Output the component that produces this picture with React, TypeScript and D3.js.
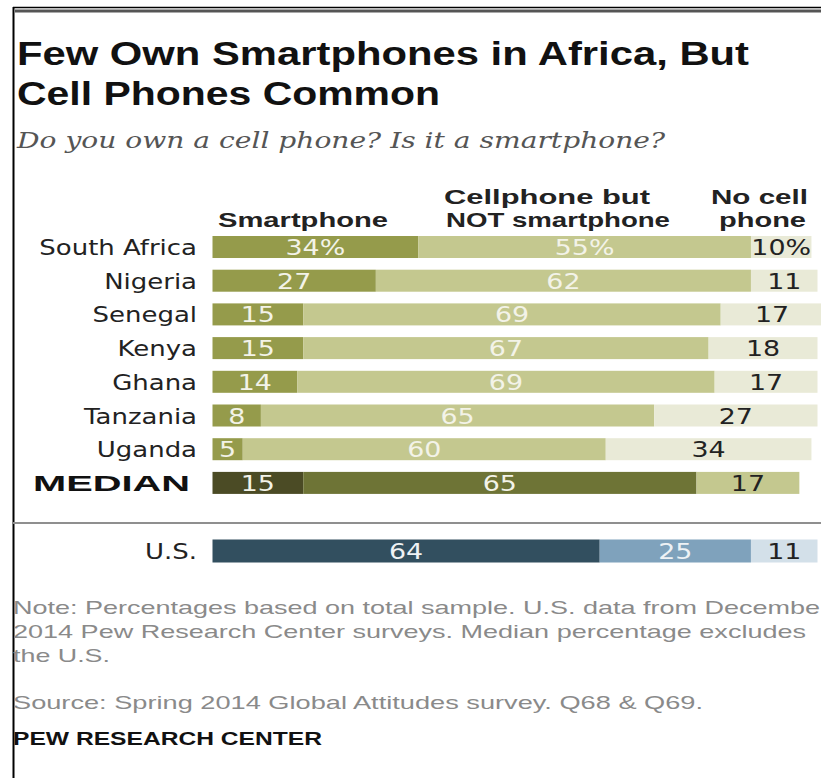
import React from "react";
import * as d3 from "d3";

const countries = ["South Africa", "Nigeria", "Senegal", "Kenya", "Ghana", "Tanzania", "Uganda", "MEDIAN"];
const smartphone = [34, 27, 15, 15, 14, 8, 5, 15];
const cellNotSmart = [55, 62, 69, 67, 69, 65, 60, 65];
const noCell = [10, 11, 17, 18, 17, 27, 34, 17];
const usLabel = "U.S.";
const usValues = [64, 25, 11];

const W = 821;
const H = 778;

const greens = ["#959b4b", "#c4c88f", "#e9ead7"];
const medianColors = ["#4b4b25", "#6e7436", "#c4c88f"];
const usColors = ["#324f5f", "#7fa2bc", "#d3e0e9"];
const textOnColors = ["#f3f3e8", "#f3f3e8", "#222"];

const SANS = "'DejaVu Sans', sans-serif";
const ARIAL = "'Liberation Sans', Arial, sans-serif";

function T(props: any) {
  const { x, y, sx = 1.3, anchor = "start", children, ...rest } = props;
  return (
    <g transform={`translate(${x},${y}) scale(${sx},1)`}>
      <text x={0} y={0} textAnchor={anchor} {...rest}>
        {children}
      </text>
    </g>
  );
}

export default function App() {
  const x = d3.scaleLinear().domain([0, 100]).range([212.5, 817.5]);
  const step = 33.7;
  const pad = 0.347;
  const y = d3
    .scaleBand()
    .domain(countries)
    .range([236 - (step * pad) / 2, 236 - (step * pad) / 2 + step * countries.length])
    .paddingInner(pad)
    .paddingOuter(pad / 2);
  const bw = y.bandwidth();

  const rows = countries.map((c, i) => {
    const vals = [smartphone[i], cellNotSmart[i], noCell[i]];
    const starts = [0, vals[0], vals[0] + vals[1]];
    return { c, i, vals, starts };
  });

  const usY = 539.5;
  const usStarts = [0, usValues[0], usValues[0] + usValues[1]];

  return (
    <div style={{ position: "absolute", left: 0, top: 0 }}>
      <svg width={W} height={H} style={{ display: "block", background: "#fff" }}>
        {/* frame */}
        <line x1={13.5} y1={7} x2={13.5} y2={H} stroke="#000" strokeWidth={2} />
        <line x1={13} y1={7.5} x2={W} y2={7.5} stroke="#000" strokeWidth={1.5} />
        <line x1={15} y1={11} x2={W} y2={11} stroke="#555" strokeWidth={3} />

        {/* title */}
        <text x={17} y={65} fontFamily={ARIAL} fontWeight="bold" fontSize={34} fill="#111" textLength={732} lengthAdjust="spacingAndGlyphs">
          Few Own Smartphones in Africa, But
        </text>
        <text x={17} y={105} fontFamily={ARIAL} fontWeight="bold" fontSize={34} fill="#111" textLength={423} lengthAdjust="spacingAndGlyphs">
          Cell Phones Common
        </text>
        <text x={17} y={148} fontFamily="'DejaVu Serif', serif" fontStyle="italic" fontSize={22} fill="#555" textLength={648} lengthAdjust="spacingAndGlyphs">
          Do you own a cell phone? Is it a smartphone?
        </text>

        {/* column headers */}
        <text x={218} y={227} fontFamily={ARIAL} fontWeight="bold" fontSize={20} fill="#222" textLength={170} lengthAdjust="spacingAndGlyphs">Smartphone</text>
        <text x={444} y={204} fontFamily={ARIAL} fontWeight="bold" fontSize={20} fill="#222" textLength={206} lengthAdjust="spacingAndGlyphs">Cellphone but</text>
        <text x={446} y={227} fontFamily={ARIAL} fontWeight="bold" fontSize={20} fill="#222" textLength={224} lengthAdjust="spacingAndGlyphs">NOT smartphone</text>
        <text x={711} y={204} fontFamily={ARIAL} fontWeight="bold" fontSize={20} fill="#222" textLength={97} lengthAdjust="spacingAndGlyphs">No cell</text>
        <text x={719} y={227} fontFamily={ARIAL} fontWeight="bold" fontSize={20} fill="#222" textLength={87} lengthAdjust="spacingAndGlyphs">phone</text>

        {/* rows */}
        {rows.map((r) => {
          const top = y(r.c)!;
          const isMedian = r.c === "MEDIAN";
          const cols = isMedian ? medianColors : greens;
          return (
            <g key={r.c}>
              {isMedian ? (
                <text x={33} y={top + 19.5} fontFamily={ARIAL} fontWeight="900" fontSize={22} fill="#111" textLength={157} lengthAdjust="spacingAndGlyphs">
                  {r.c}
                </text>
              ) : (
                <T x={197} y={top + 19} anchor="end" fontFamily={SANS} fontSize={22} fill="#222" sx={1.18}>
                  {r.c}
                </T>
              )}
              {r.vals.map((v, k) => (
                <rect key={k} x={x(r.starts[k])} y={top} width={x(r.starts[k] + v) - x(r.starts[k])} height={bw} fill={cols[k]} />
              ))}
              {r.vals.map((v, k) => (
                <T
                  key={"t" + k}
                  x={(x(r.starts[k]) + x(r.starts[k] + v)) / 2}
                  y={top + 19}
                  anchor="middle"
                  fontFamily={SANS}
                  fontSize={21}
                  fill={k === 2 ? "#222" : textOnColors[k]}
                  sx={1.28}
                >
                  {r.i === 0 ? `${v}%` : `${v}`}
                </T>
              ))}
            </g>
          );
        })}

        {/* separator */}
        <line x1={13} y1={523} x2={W} y2={523} stroke="#8f8f8f" strokeWidth={2} />

        {/* US row */}
        <T x={197} y={usY + 19.5} anchor="end" fontFamily={SANS} fontSize={22} fill="#222" sx={1.18}>
          {usLabel}
        </T>
        {usValues.map((v, k) => (
          <rect key={k} x={x(usStarts[k])} y={usY} width={x(usStarts[k] + v) - x(usStarts[k])} height={23} fill={usColors[k]} />
        ))}
        {usValues.map((v, k) => (
          <T
            key={"u" + k}
            x={(x(usStarts[k]) + x(usStarts[k] + v)) / 2}
            y={usY + 19.5}
            anchor="middle"
            fontFamily={SANS}
            fontSize={21}
            fill={k === 2 ? "#222" : "#eef2f5"}
            sx={1.28}
          >
            {`${v}`}
          </T>
        ))}

        {/* notes */}
        <text x={13} y={614} fontFamily={ARIAL} fontSize={19} fill="#8a8a8a" textLength={816} lengthAdjust="spacingAndGlyphs">
          Note: Percentages based on total sample. U.S. data from December
        </text>
        <text x={13} y={638} fontFamily={ARIAL} fontSize={19} fill="#8a8a8a" textLength={793} lengthAdjust="spacingAndGlyphs">
          2014  Pew Research Center surveys. Median percentage excludes
        </text>
        <text x={13} y={662} fontFamily={ARIAL} fontSize={19} fill="#8a8a8a" textLength={97} lengthAdjust="spacingAndGlyphs">
          the U.S.
        </text>
        <text x={13} y={709} fontFamily={ARIAL} fontSize={19} fill="#8a8a8a" textLength={690} lengthAdjust="spacingAndGlyphs">
          Source: Spring 2014 Global Attitudes survey. Q68 &amp; Q69.
        </text>
        <text x={13} y={745} fontFamily={ARIAL} fontWeight="bold" fontSize={18} fill="#111" textLength={309} lengthAdjust="spacingAndGlyphs">
          PEW RESEARCH CENTER
        </text>
      </svg>
    </div>
  );
}
